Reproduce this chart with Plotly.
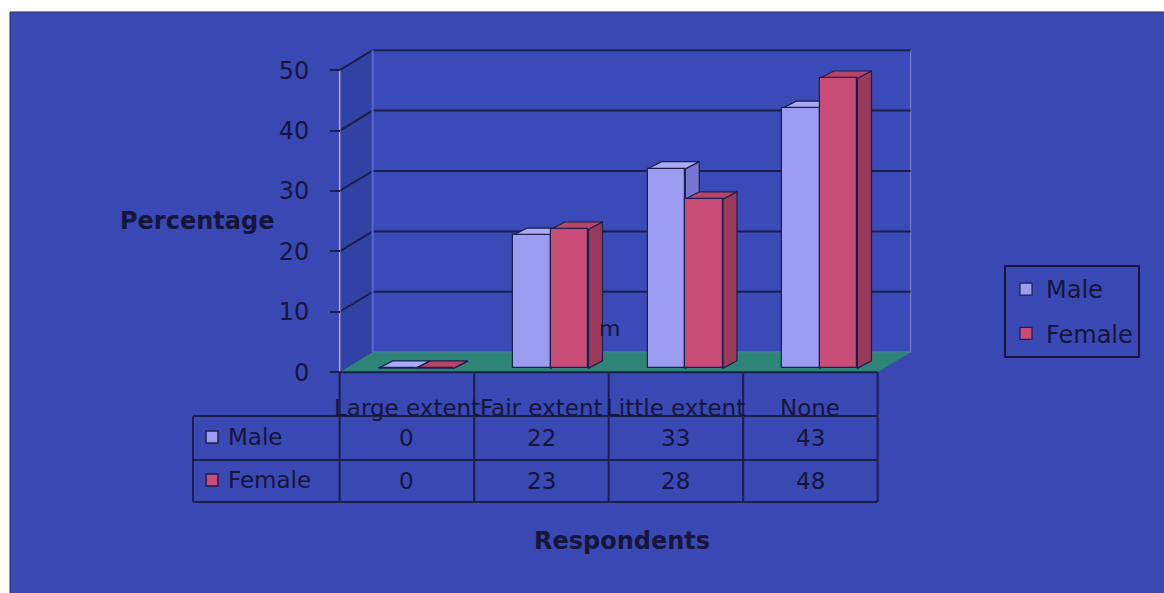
import plotly.graph_objects as go

# ---------------- data ----------------
categories = ["Large extent", "Fair extent", "Little extent", "None"]
male = [0, 22, 33, 43]
female = [0, 23, 28, 48]
series_names = ["Male", "Female"]
y_ticks = [0, 10, 20, 30, 40, 50]
y_title = "Percentage"
x_title = "Respondents"

# ---------------- geometry / style ----------------
W, H = 1164, 593
ML, MR, MT, MB = 185, 246, 46, 88
XR = [-1.65, 3.8]
YR = [-22, 54]
PW = W - ML - MR
PH = H - MT - MB
UX = PW / (XR[1] - XR[0])
UY = PH / (YR[1] - YR[0])


def dx(px):
    return XR[0] + (px - ML) / UX


def dy(py):
    return YR[1] - (py - MT) / UY


def pxp(px):
    return (px - ML) / PW


def pyp(py):
    return (H - MB - py) / PH


FONT = "DejaVu Sans"
DARK = "#15163a"
BLUE = "#3a48b4"
WALL = "#3a4ab6"
LWALL = "#3241a4"
FLOOR = "#2e8577"
GRID = "#1b1f4c"
M_FRONT, M_TOP, M_SIDE = "#9c9df0", "#aaabf6", "#7576cf"
F_FRONT, F_TOP, F_SIDE = "#c84c75", "#b84569", "#9a3a5b"

DX, DY = 0.245, 3.3          # 3-D depth of the walls
YMAX = 50
BW, PAIR_SHIFT, BASE = 0.28, 0.07, 0.66
BDX, BDY = 0.104, 1.2        # depth of the bars

n = len(categories)
LEFT, RIGHT = -0.5, n - 0.5


def path(pts):
    return "M " + " L ".join(f"{x},{y}" for x, y in pts) + " Z"


shapes = []
# outer background panel
shapes.append(dict(type="rect", xref="paper", yref="paper",
                   x0=pxp(10), x1=pxp(W + 5), y0=pyp(12), y1=pyp(H + 5),
                   fillcolor=BLUE, line=dict(color="#262b5c", width=1), layer="below"))
# back wall
shapes.append(dict(type="rect", xref="x", yref="y", x0=LEFT + DX, x1=RIGHT + DX,
                   y0=DY, y1=YMAX + DY, fillcolor=WALL,
                   line=dict(color="#7f8ad6", width=1), layer="below"))
# left wall
shapes.append(dict(type="path", xref="x", yref="y",
                   path=path([(LEFT, 0), (LEFT, YMAX), (LEFT + DX, YMAX + DY), (LEFT + DX, DY)]),
                   fillcolor=LWALL, line=dict(color=LWALL, width=0), layer="below"))
# floor
shapes.append(dict(type="path", xref="x", yref="y",
                   path=path([(LEFT, 0), (RIGHT, 0), (RIGHT + DX, DY), (LEFT + DX, DY)]),
                   fillcolor=FLOOR, line=dict(color=FLOOR, width=0), layer="below"))
# gridlines on walls
for v in y_ticks[1:]:
    shapes.append(dict(type="line", xref="x", yref="y", x0=LEFT, y0=v, x1=LEFT + DX, y1=v + DY,
                       line=dict(color=GRID, width=2), layer="below"))
    shapes.append(dict(type="line", xref="x", yref="y", x0=LEFT + DX, y0=v + DY, x1=RIGHT + DX, y1=v + DY,
                       line=dict(color=GRID, width=2), layer="below"))
# corner between left and back wall
shapes.append(dict(type="line", xref="x", yref="y", x0=LEFT + DX, y0=DY, x1=LEFT + DX, y1=YMAX + DY,
                   line=dict(color="#5566cc", width=2), layer="below"))
# axis line
shapes.append(dict(type="line", xref="x", yref="y", x0=LEFT, y0=0, x1=LEFT, y1=YMAX,
                   line=dict(color="#b9aacb", width=1.5), layer="below"))

# data table grid
row_top = dy(416)
row_mid = dy(460)
row_bot = dy(502)
tab_left = dx(193)
shapes.append(dict(type="line", xref="x", yref="y", x0=LEFT, y0=0, x1=RIGHT, y1=0,
                   line=dict(color=GRID, width=2), layer="below"))
for yy in (row_top, row_mid, row_bot):
    shapes.append(dict(type="line", xref="x", yref="y", x0=tab_left, y0=yy, x1=RIGHT, y1=yy,
                       line=dict(color=GRID, width=2), layer="below"))
for k in range(n + 1):
    xx = LEFT + k
    shapes.append(dict(type="line", xref="x", yref="y", x0=xx, y0=0, x1=xx, y1=row_bot,
                       line=dict(color=GRID, width=2), layer="below"))
shapes.append(dict(type="line", xref="x", yref="y", x0=tab_left, y0=row_top, x1=tab_left, y1=row_bot,
                   line=dict(color=GRID, width=2), layer="below"))

# 3-D faces of the bars (drawn beneath the front faces)
series = [(male, M_TOP, M_SIDE), (female, F_TOP, F_SIDE)]
for i in range(n):
    for s, (vals, ctop, cside) in enumerate(series):
        xl = i + PAIR_SHIFT - BW + s * BW
        xr = xl + BW
        top = BASE + vals[i]
        shapes.append(dict(type="path", xref="x", yref="y",
                           path=path([(xr, BASE), (xr + BDX, BASE + BDY), (xr + BDX, top + BDY), (xr, top)]),
                           fillcolor=cside, line=dict(color=GRID, width=1.2), layer="below"))
        shapes.append(dict(type="path", xref="x", yref="y",
                           path=path([(xl, top), (xr, top), (xr + BDX, top + BDY), (xl + BDX, top + BDY)]),
                           fillcolor=ctop, line=dict(color=GRID, width=1.2), layer="below"))

# legend keys inside the data table
for yc, col in ((437, M_FRONT), (480, F_FRONT)):
    shapes.append(dict(type="rect", xref="x", yref="y", x0=dx(206), x1=dx(218),
                       y0=dy(yc + 6), y1=dy(yc - 6), fillcolor=col,
                       line=dict(color=GRID, width=1.5), layer="below"))

fig = go.Figure()
xs = list(range(n))
fig.add_trace(go.Bar(x=xs, y=male, base=BASE, width=BW, offset=PAIR_SHIFT - BW,
                     name=series_names[0], legendgroup="m",
                     marker=dict(color=M_FRONT, line=dict(color=GRID, width=1.2))))
fig.add_trace(go.Bar(x=xs, y=female, base=BASE, width=BW, offset=PAIR_SHIFT,
                     name=series_names[1], legendgroup="f",
                     marker=dict(color=F_FRONT, line=dict(color=GRID, width=1.2))))

ann = []
tf = dict(family=FONT, size=23, color=DARK)
C = dict(xanchor="center", yanchor="middle", showarrow=False)
for i, c in enumerate(categories):
    ann.append(dict(x=i, y=dy(408), xref="x", yref="y", text=c, font=tf, **C))
    ann.append(dict(x=i, y=dy(438), xref="x", yref="y", text=str(male[i]), font=tf, **C))
    ann.append(dict(x=i, y=dy(481), xref="x", yref="y", text=str(female[i]), font=tf, **C))
ann.append(dict(x=dx(226), y=dy(437), xref="x", yref="y", text=series_names[0], xanchor="left",
                yanchor="middle", showarrow=False, font=tf))
ann.append(dict(x=dx(226), y=dy(480), xref="x", yref="y", text=series_names[1], xanchor="left",
                yanchor="middle", showarrow=False, font=tf))
ann.append(dict(x=pxp(197), y=pyp(221), xref="paper", yref="paper", text=f"<b>{y_title}</b>",
                font=dict(family=FONT, size=24, color=DARK), **C))
ann.append(dict(x=pxp(622), y=pyp(541), xref="paper", yref="paper", text=f"<b>{x_title}</b>",
                font=dict(family=FONT, size=24, color=DARK), **C))
ann.append(dict(x=dx(609), y=dy(328), xref="x", yref="y", text="m",
                font=dict(family=FONT, size=22, color=DARK), **C))

fig.update_layout(
    width=W, height=H,
    margin=dict(l=ML, r=MR, t=MT, b=MB, autoexpand=False),
    paper_bgcolor="white", plot_bgcolor="rgba(0,0,0,0)",
    barmode="overlay", bargap=0,
    shapes=shapes, annotations=ann,
    xaxis=dict(range=XR, visible=False, fixedrange=True),
    yaxis=dict(range=YR, tickvals=y_ticks, ticks="outside", ticklen=10, tickwidth=2,
               tickcolor=GRID, showgrid=False, zeroline=False, showline=False,
               anchor="free", position=pxp(340), ticklabelstandoff=16,
               tickfont=dict(family=FONT, size=24, color=DARK)),
    legend=dict(x=pxp(1004), y=pyp(265), xanchor="left", yanchor="top",
                bgcolor="rgba(0,0,0,0)", bordercolor=DARK, borderwidth=2,
                font=dict(family=FONT, size=24, color=DARK), tracegroupgap=10,
                itemclick=False),
    showlegend=True,
)

fig.write_html("out.html")
